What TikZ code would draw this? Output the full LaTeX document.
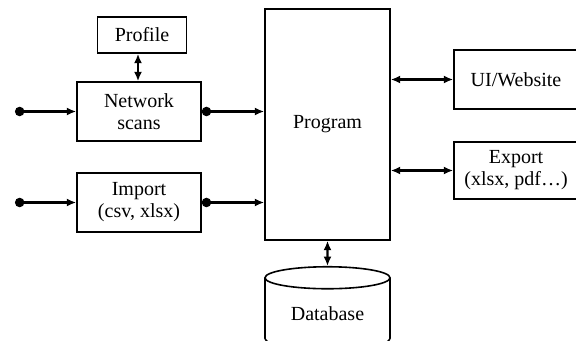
\documentclass[tikz,border=0pt]{standalone}
\usepackage{fontspec}
\setmainfont{Liberation Serif}
\usepackage{tikz}
\usetikzlibrary{arrows.meta, positioning, shapes.geometric, calc}

\begin{document}
\begin{tikzpicture}[x=0.75pt, y=-0.75pt,
    box/.style={draw, line width=1.2pt, align=center, inner sep=0pt,
        font=\rmfamily\fontsize{15}{16.5}\selectfont},
    link/.style={line width=1.8pt, -{Latex[length=7pt, width=6pt]}},
    both/.style={line width=1.8pt, {Latex[length=7pt, width=6pt]}-{Latex[length=7pt, width=6pt]}},
    fed/.style={line width=1.8pt, {Circle[length=7pt]}-{Latex[length=7pt, width=6pt]}}]
    \useasboundingbox (0,0) rectangle (576,341);
    % Central program
    \node[box, minimum width=93.75pt, minimum height=173.25pt] (program) at (327.5,124.5) {Program};
    % Inputs
    \node[box, minimum width=93pt, minimum height=44.25pt] (netscan) at (139,111.5) {Network\\scans};
    \node[box, minimum width=66.75pt, minimum height=27pt] (profile) at (142,35) {Profile};
    \node[box, minimum width=93pt, minimum height=44.25pt] (import) at (139,202.5) {Import\\(csv, xlsx)};
    % Outputs
    \node[box, minimum width=93pt, minimum height=44.25pt] (ui) at (516,79.5) {UI/Website};
    \node[box, minimum width=93pt, minimum height=43pt] (export) at (516,170.5) {Export\\(xlsx, pdf…)};
    % Storage
    \node[box, cylinder, shape border rotate=90, aspect=0.3,
        minimum width=93.75pt, minimum height=62pt] (db) at (327.5,314) {Database};
    % Free ends of the input lines
    \coordinate (scanin) at (15,111.5);
    \coordinate (importin) at (15,202.5);
    % Connectors
    \draw[fed] (scanin) -- (netscan.west);
    \draw[fed] (importin) -- (import.west);
    \draw[fed] (netscan.east) -- (netscan.east -| program.west);
    \draw[fed] (import.east) -- (import.east -| program.west);
    \draw[both] (profile.south -| 138,0) -- (netscan.north -| 138,0);
    \draw[both] (program.east |- ui.west) -- (ui.west);
    \draw[both] (program.east |- export.west) -- (export.west);
    \draw[both] (program.south) -- (db.north);
\end{tikzpicture}
\end{document}
